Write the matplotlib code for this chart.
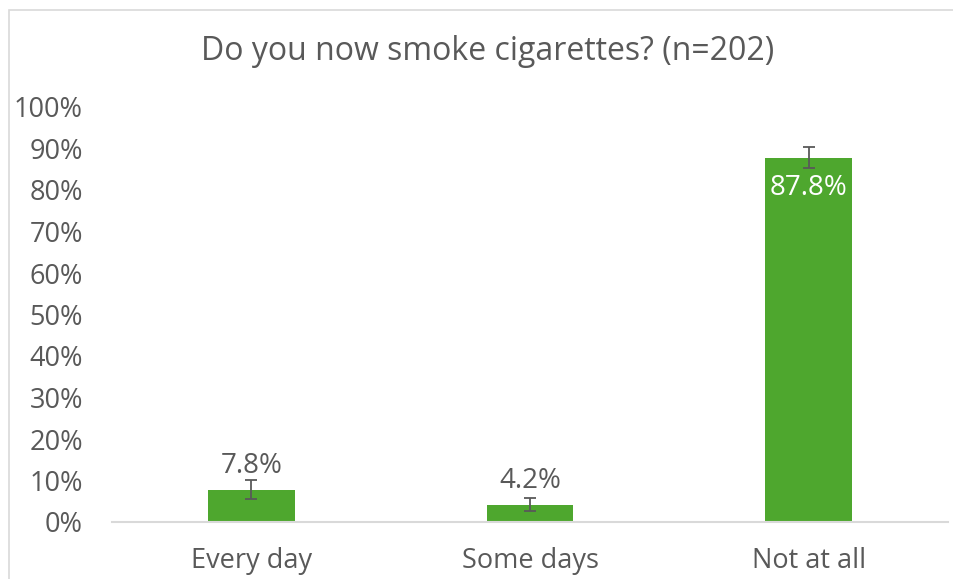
import matplotlib
matplotlib.use("Agg")
import matplotlib.pyplot as plt
from matplotlib.patches import Rectangle

categories = ["Every day", "Some days", "Not at all"]
values = [7.8, 4.2, 87.8]
errors = [2.3, 1.5, 2.6]
yticks = [0, 10, 20, 30, 40, 50, 60, 70, 80, 90, 100]
title = "Do you now smoke cigarettes? (n=202)"

plt.rcParams['font.family'] = ['Open Sans', 'DejaVu Sans']
TXT = '#595959'
GREEN = '#4EA72E'

fig = plt.figure(figsize=(9.54, 5.79), dpi=100)
ax = fig.add_axes([112/954, 57/579, 836/954, 415/579])

x = list(range(len(categories)))
ax.bar(x, values, width=0.31, color=GREEN, zorder=2)
ax.errorbar(x, values, yerr=errors, fmt='none', ecolor=TXT, elinewidth=1.3,
            capsize=4.3, capthick=1.3, zorder=3)

for xi, v in zip(x, values):
    if v > 50:
        ax.text(xi, v - 7.3, f"{v:.1f}%", ha='center', va='center', color='white', fontsize=20)
    else:
        ax.text(xi, v + 5.6, f"{v:.1f}%", ha='center', va='center', color=TXT, fontsize=20)

ax.set_xlim(-0.5, 2.5)
ax.set_ylim(0, 100)
ax.set_yticks(yticks)
ax.set_yticklabels([f"{t}%" for t in yticks], color=TXT, fontsize=19.5)
ax.set_xticks(x)
ax.set_xticklabels(categories, color=TXT, fontsize=19.5)
ax.tick_params(axis='y', length=0, pad=21)
ax.tick_params(axis='x', length=0, pad=18)
for s in ['top', 'right', 'left']:
    ax.spines[s].set_visible(False)
ax.spines['bottom'].set_color('#D9D9D9')
ax.spines['bottom'].set_linewidth(1.5)

fig.text(488/954, 1 - 52/579, title, ha='center', va='center', color=TXT, fontsize=23)

fig.patches.append(Rectangle((9/954, -0.1), 1.2, 1 - 10/579 + 0.1, transform=fig.transFigure,
                             fill=False, edgecolor='#D9D9D9', linewidth=1.2))

fig.savefig("out.png", dpi=100)
